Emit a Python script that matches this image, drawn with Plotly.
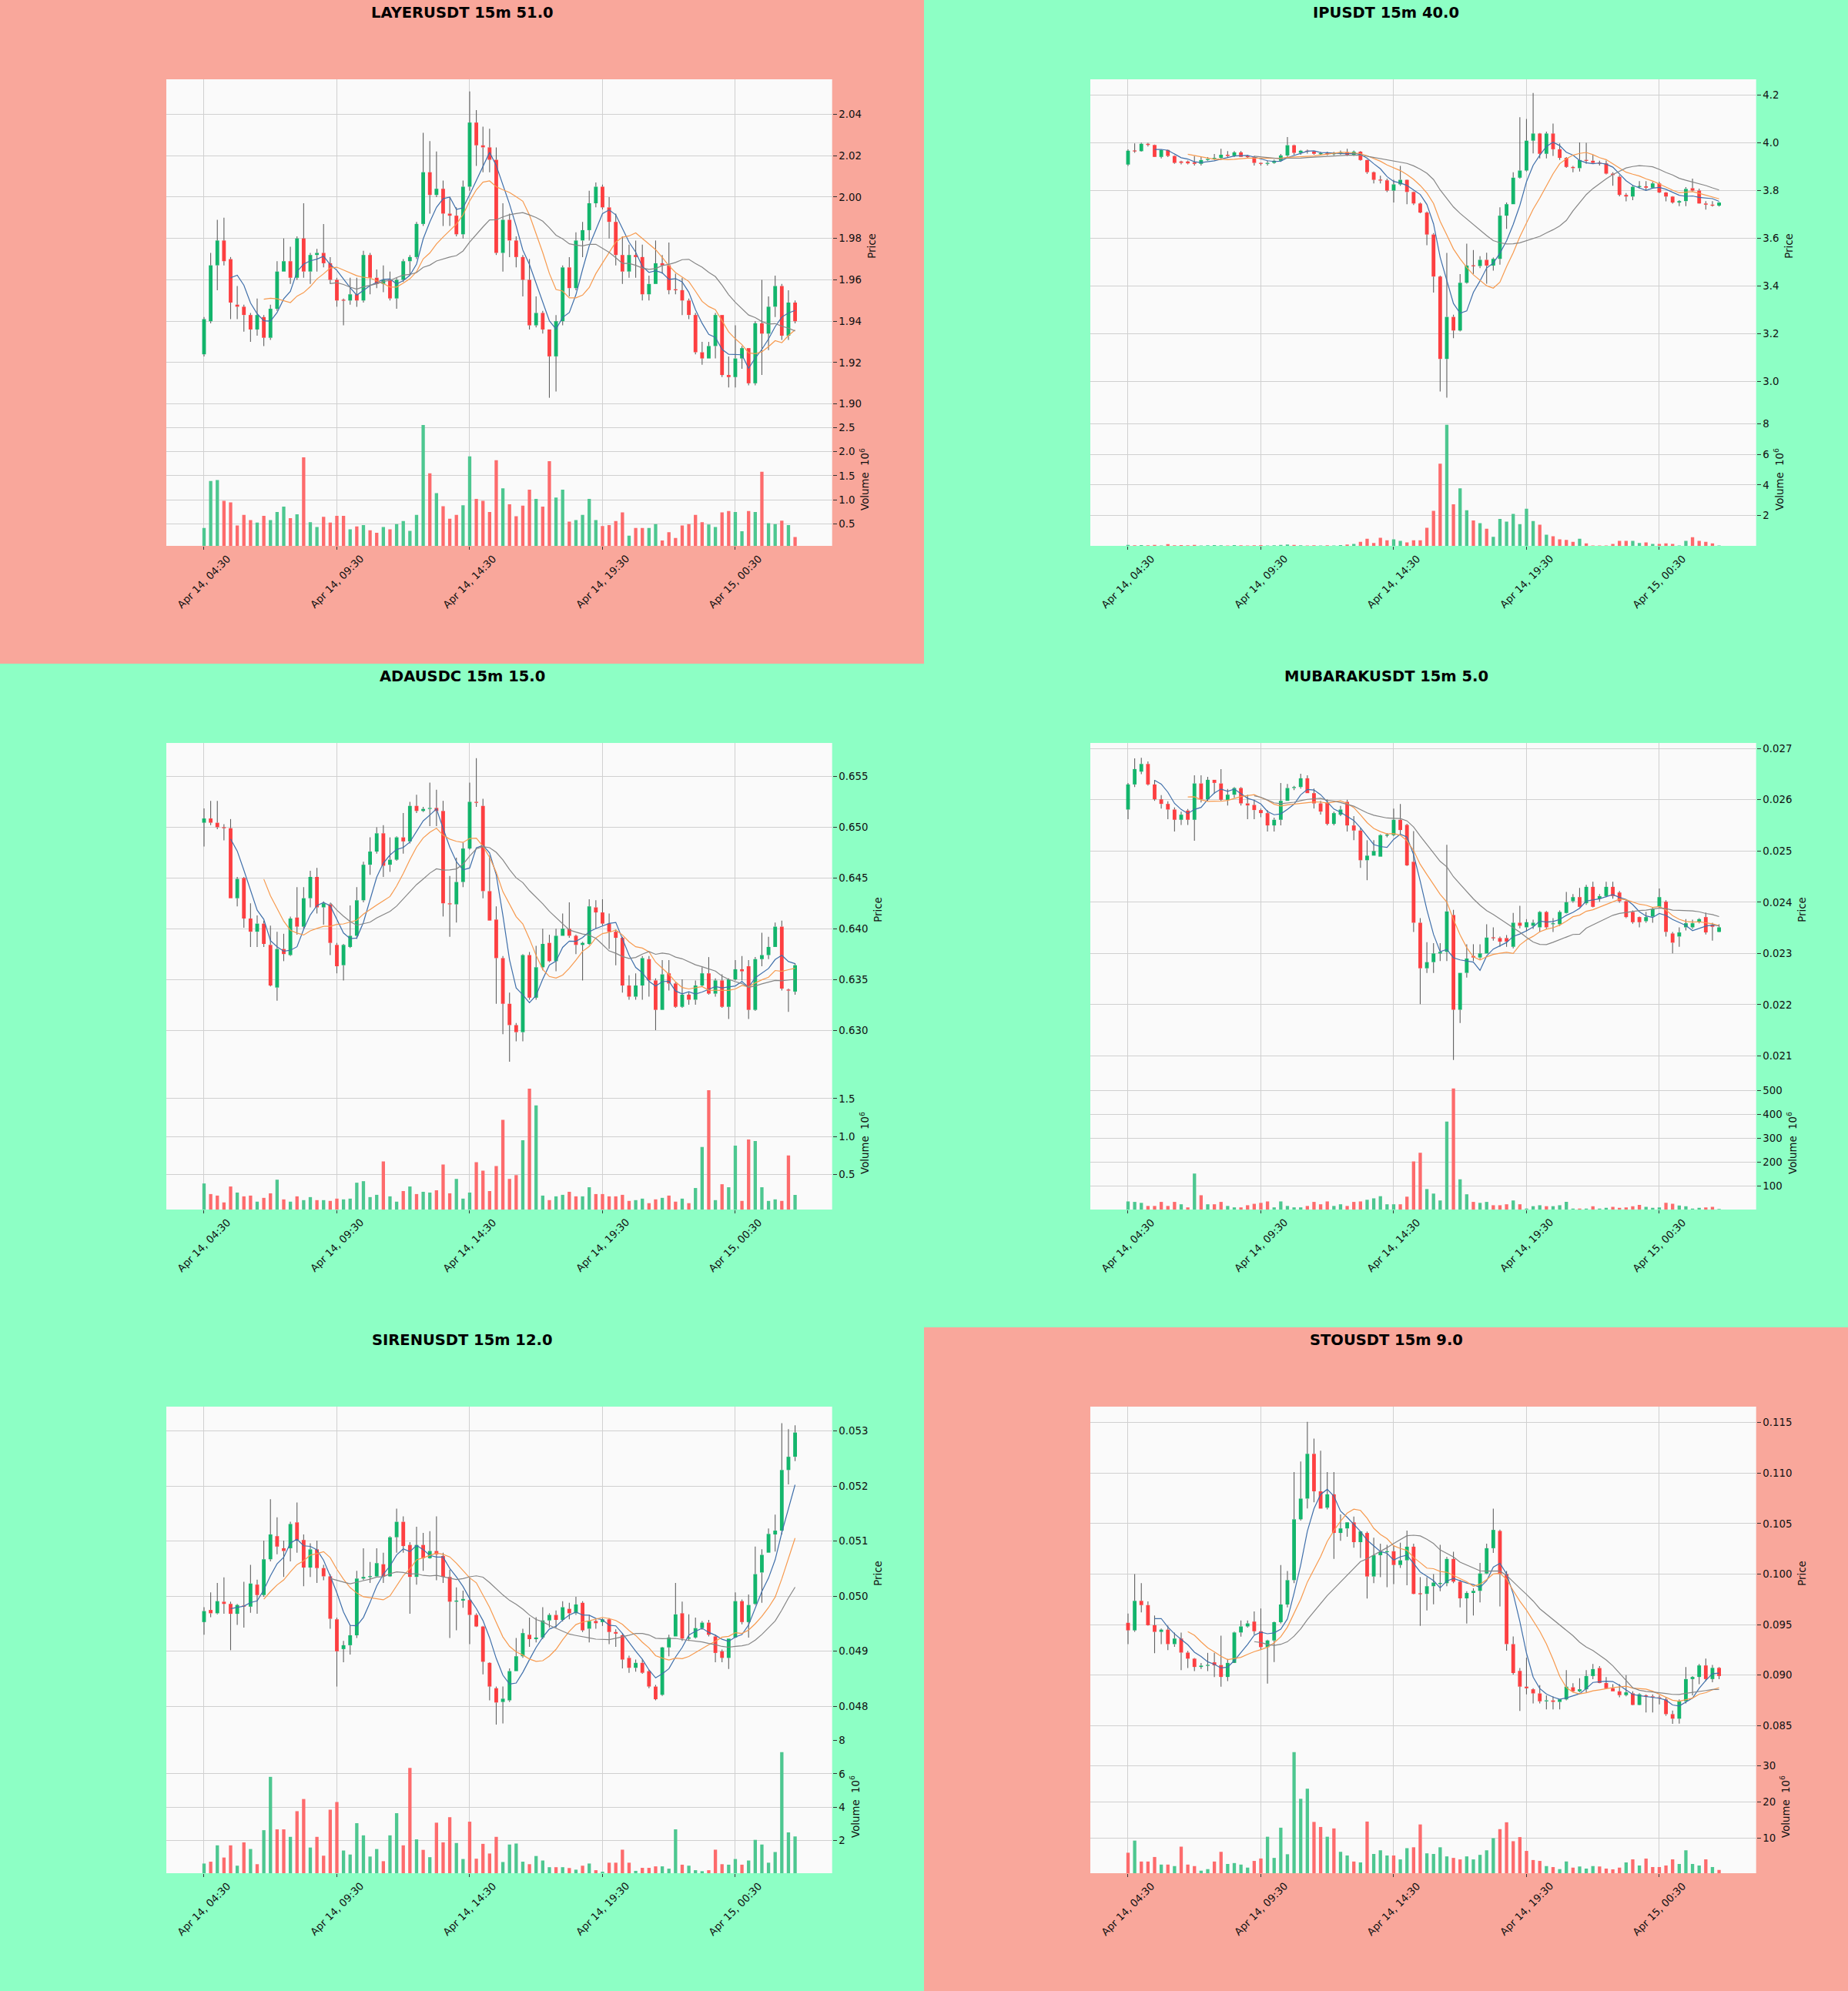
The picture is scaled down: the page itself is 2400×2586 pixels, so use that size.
import pandas as pd
import plotly.graph_objects as go

# ---------------------------------------------------------------- data
TITLES = ["LAYERUSDT 15m 51.0", "IPUSDT 15m 40.0", "ADAUSDC 15m 15.0",
          "MUBARAKUSDT 15m 5.0", "SIRENUSDT 15m 12.0", "STOUSDT 15m 9.0"]
X_TICK_POS = [0, 20, 40, 60, 80]
X_TICK_TEXT = ["Apr 14, 04:30", "Apr 14, 09:30", "Apr 14, 14:30",
               "Apr 14, 19:30", "Apr 15, 00:30"]
MA_WINDOWS = [5, 10, 20]

layer_open = [1.924,1.940,1.967,1.979,1.970,1.948,1.947,1.943,1.936,1.942,
              1.932,1.946,1.964,1.969,1.961,1.980,1.964,1.972,1.973,1.968,
              1.960,1.9503,1.950,1.953,1.950,1.972,1.961,1.958,1.960,1.951,
              1.960,1.969,1.971,1.987,2.012,2.001,2.004,1.992,1.991,1.982,
              2.005,2.036,2.025,2.024,2.018,1.973,1.989,1.979,1.971,1.960,
              1.938,1.944,1.936,1.923,1.940,1.966,1.956,1.979,1.984,1.997,
              2.005,1.995,1.988,1.972,1.964,1.972,1.971,1.953,1.958,1.968,
              1.967,1.9554,1.955,1.950,1.943,1.925,1.922,1.928,1.943,1.914,
              1.913,1.922,1.927,1.910,1.939,1.934,1.947,1.957,1.933,1.949]
layer_high = [1.942,1.973,1.989,1.990,1.971,1.957,1.948,1.944,1.951,1.943,
              1.948,1.969,1.980,1.976,1.981,1.997,1.973,1.975,1.987,1.971,
              1.961,1.951,1.961,1.961,1.974,1.973,1.965,1.967,1.964,1.961,
              1.970,1.972,1.988,2.031,2.027,2.022,2.008,2.000,1.995,2.008,
              2.051,2.042,2.034,2.033,2.024,1.997,1.992,1.981,1.972,1.970,
              1.952,1.945,1.936,1.943,1.967,1.971,1.983,1.988,2.003,2.007,
              2.006,2.000,1.992,1.981,1.977,1.979,1.977,1.962,1.979,1.972,
              1.978,1.963,1.961,1.951,1.944,1.930,1.930,1.944,1.943,1.923,
              1.938,1.928,1.927,1.940,1.960,1.952,1.962,1.958,1.955,1.950]
layer_low = [1.923,1.939,1.955,1.967,1.941,1.941,1.935,1.930,1.933,1.928,
             1.931,1.945,1.964,1.958,1.960,1.961,1.958,1.964,1.966,1.958,
             1.947,1.938,1.948,1.947,1.949,1.953,1.956,1.954,1.950,1.946,
             1.959,1.962,1.970,1.986,1.992,2.000,1.986,1.986,1.981,1.980,
             2.003,2.015,2.012,2.012,1.972,1.964,1.971,1.966,1.952,1.936,
             1.937,1.934,1.903,1.906,1.938,1.952,1.955,1.971,1.979,1.995,
             1.994,1.980,1.967,1.958,1.961,1.961,1.950,1.950,1.958,1.963,
             1.953,1.953,1.943,1.941,1.924,1.919,1.922,1.922,1.913,1.908,
             1.908,1.917,1.909,1.909,1.914,1.926,1.942,1.931,1.931,1.939]
layer_close = [1.941,1.967,1.979,1.969,1.949,1.947,1.943,1.936,1.943,1.932,
               1.946,1.964,1.969,1.961,1.980,1.964,1.972,1.973,1.968,1.960,
               1.950,1.950,1.953,1.950,1.972,1.961,1.958,1.960,1.951,1.960,
               1.969,1.971,1.987,2.012,2.001,2.004,1.992,1.991,1.982,2.005,
               2.036,2.025,2.024,2.018,1.973,1.989,1.979,1.971,1.960,1.938,
               1.944,1.936,1.923,1.940,1.966,1.956,1.979,1.984,1.997,2.005,
               1.995,1.988,1.972,1.964,1.972,1.971,1.953,1.958,1.968,1.967,
               1.955,1.955,1.950,1.943,1.925,1.922,1.928,1.943,1.914,1.913,
               1.922,1.927,1.910,1.939,1.934,1.947,1.957,1.933,1.949,1.940]
layer_vol = [0.42,1.39,1.41,0.98,0.95,0.47,0.69,0.58,0.53,0.67,
             0.58,0.75,0.86,0.62,0.70,1.88,0.54,0.44,0.65,0.53,
             0.67,0.67,0.39,0.45,0.48,0.37,0.32,0.44,0.39,0.50,
             0.56,0.36,0.69,2.55,1.55,1.14,0.87,0.61,0.69,0.89,
             1.90,1.02,0.98,0.75,1.82,1.24,0.91,0.66,0.88,1.21,
             1.02,0.86,1.80,1.05,1.21,0.55,0.58,0.69,1.02,0.58,
             0.46,0.48,0.56,0.74,0.26,0.42,0.42,0.42,0.50,0.16,
             0.33,0.21,0.47,0.50,0.69,0.54,0.49,0.44,0.74,0.77,
             0.75,0.35,0.77,0.75,1.58,0.52,0.50,0.57,0.48,0.23]

ip_open = [3.909,3.967,3.965,3.996,3.991,3.941,3.970,3.945,3.922,3.922,
           3.918,3.912,3.928,3.932,3.937,3.950,3.945,3.960,3.946,3.940,
           3.916,3.912,3.916,3.925,3.947,3.990,3.958,3.967,3.963,3.954,
           3.955,3.953,3.956,3.960,3.950,3.963,3.928,3.877,3.845,3.843,
           3.800,3.826,3.845,3.794,3.746,3.708,3.616,3.440,3.095,3.271,
           3.214,3.414,3.486,3.484,3.510,3.486,3.514,3.695,3.743,3.854,
           3.884,4.009,4.039,3.954,4.039,3.973,3.937,3.899,3.894,3.928,
           3.925,3.916,3.914,3.871,3.858,3.782,3.775,3.816,3.818,3.812,
           3.830,3.792,3.775,3.750,3.756,3.810,3.800,3.746,3.741,3.737]
ip_high = [3.973,3.998,4.001,4.000,3.993,3.972,3.972,3.948,3.925,3.926,
           3.945,3.940,3.940,3.953,3.975,3.965,3.965,3.965,3.950,3.945,
           3.918,3.925,3.930,3.953,4.024,3.993,3.970,3.972,3.966,3.962,
           3.963,3.962,3.968,3.975,3.968,3.965,3.930,3.880,3.862,3.850,
           3.845,3.903,3.847,3.796,3.750,3.712,3.622,3.444,3.539,3.280,
           3.450,3.578,3.551,3.525,3.540,3.520,3.730,3.750,3.877,4.107,
           4.100,4.209,4.041,4.047,4.081,3.998,3.940,3.903,4.002,4.000,
           3.950,3.925,3.926,3.877,3.865,3.790,3.822,3.840,3.840,3.836,
           3.836,3.794,3.777,3.760,3.815,3.850,3.808,3.756,3.756,3.752]
ip_low = [3.903,3.958,3.963,3.985,3.940,3.935,3.940,3.912,3.910,3.910,
          3.905,3.905,3.925,3.928,3.928,3.940,3.940,3.940,3.935,3.905,
          3.905,3.905,3.912,3.920,3.940,3.950,3.950,3.955,3.950,3.948,
          3.948,3.948,3.950,3.945,3.945,3.925,3.870,3.830,3.830,3.794,
          3.750,3.820,3.743,3.740,3.705,3.571,3.373,2.959,2.933,3.182,
          3.210,3.410,3.451,3.475,3.410,3.465,3.490,3.640,3.743,3.850,
          3.880,3.956,3.935,3.935,3.945,3.928,3.895,3.877,3.880,3.912,
          3.912,3.905,3.868,3.820,3.776,3.755,3.760,3.808,3.800,3.808,
          3.790,3.755,3.745,3.735,3.735,3.795,3.745,3.720,3.733,3.733]
ip_close = [3.967,3.965,3.996,3.991,3.941,3.970,3.945,3.916,3.916,3.914,
            3.912,3.928,3.932,3.937,3.950,3.945,3.960,3.941,3.940,3.916,
            3.912,3.916,3.925,3.947,3.990,3.958,3.967,3.963,3.954,3.955,
            3.953,3.956,3.960,3.950,3.963,3.928,3.877,3.845,3.843,3.800,
            3.826,3.845,3.794,3.746,3.708,3.616,3.440,3.095,3.271,3.214,
            3.414,3.486,3.484,3.510,3.486,3.514,3.695,3.743,3.854,3.884,
            4.009,4.039,3.954,4.039,3.973,3.937,3.899,3.894,3.928,3.925,
            3.916,3.914,3.871,3.865,3.782,3.775,3.816,3.818,3.812,3.830,
            3.792,3.775,3.750,3.756,3.807,3.800,3.746,3.741,3.737,3.750]
ip_vol = [0.08,0.05,0.06,0.05,0.07,0.04,0.12,0.05,0.06,0.05,
          0.07,0.04,0.05,0.06,0.05,0.04,0.06,0.05,0.04,0.05,
          0.06,0.04,0.05,0.07,0.10,0.08,0.05,0.04,0.05,0.04,
          0.05,0.04,0.06,0.10,0.14,0.28,0.48,0.20,0.54,0.38,
          0.44,0.34,0.24,0.38,0.38,1.20,2.30,5.40,7.94,2.74,
          3.78,2.34,1.68,1.50,1.14,0.60,1.78,1.60,2.10,1.44,
          2.44,1.64,1.40,0.74,0.64,0.44,0.40,0.28,0.48,0.18,
          0.04,0.04,0.04,0.14,0.34,0.34,0.34,0.20,0.24,0.14,
          0.14,0.18,0.14,0.04,0.34,0.58,0.34,0.28,0.18,0.04]

ada_open = [0.65044,0.65086,0.65044,0.6500,0.6499,0.6430,0.6450,0.6410,0.6397,0.6405,
            0.6384,0.6342,0.6380,0.6374,0.6411,0.6402,0.6430,0.6451,0.6421,0.6424,
            0.6384,0.6364,0.6382,0.6393,0.6428,0.6463,0.6476,0.6494,0.6463,0.6468,
            0.6490,0.6486,0.6521,0.6516,0.6518,0.6519,0.6516,0.6425,0.6424,0.6446,
            0.6479,0.6525,0.6521,0.6437,0.6409,0.6371,0.6326,0.6305,0.6298,0.6374,
            0.6332,0.6362,0.6386,0.6368,0.6393,0.6400,0.6393,0.6384,0.6385,0.6421,
            0.6416,0.6405,0.6397,0.6391,0.6344,0.6333,0.6344,0.6370,0.6349,0.6320,
            0.6356,0.6346,0.6323,0.6335,0.6330,0.6344,0.6356,0.6336,0.6349,0.6323,
            0.6350,0.6360,0.6363,0.6320,0.6370,0.6374,0.6382,0.6402,0.6340,0.6338]
ada_high = [0.65185,0.6526,0.6526,0.6503,0.6508,0.6451,0.6451,0.6425,0.6413,0.6408,
            0.6403,0.6397,0.6395,0.6412,0.6441,0.6441,0.6457,0.6460,0.6427,0.6425,
            0.6386,0.6385,0.6423,0.6441,0.6466,0.6490,0.6500,0.6502,0.6490,0.6491,
            0.6514,0.6525,0.6532,0.6520,0.6544,0.6537,0.6526,0.6452,0.6470,0.6485,
            0.6544,0.6568,0.6528,0.6472,0.6422,0.6373,0.6337,0.6307,0.6375,0.6377,
            0.6383,0.6400,0.6394,0.6400,0.6415,0.6426,0.6394,0.6387,0.6429,0.6428,
            0.6429,0.6415,0.6399,0.6392,0.6354,0.6356,0.6373,0.6373,0.6351,0.6369,
            0.6369,0.6347,0.6350,0.6337,0.6349,0.6362,0.6372,0.6351,0.6355,0.6351,
            0.6369,0.6373,0.6369,0.6372,0.6396,0.6392,0.6406,0.6408,0.6341,0.6366]
ada_low = [0.6481,0.6502,0.6498,0.6487,0.6430,0.6422,0.6401,0.6382,0.6382,0.6382,
           0.6343,0.6329,0.6368,0.6373,0.6394,0.6400,0.6421,0.6415,0.6404,0.6374,
           0.6356,0.6349,0.6381,0.6390,0.6426,0.6453,0.6474,0.6451,0.6456,0.6467,
           0.6474,0.6484,0.6514,0.6515,0.6501,0.6501,0.6412,0.6392,0.6406,0.6441,
           0.6478,0.6520,0.6430,0.6408,0.6326,0.6296,0.6269,0.6289,0.6289,0.6330,
           0.6330,0.6359,0.6367,0.6358,0.6393,0.6391,0.6375,0.6349,0.6384,0.6400,
           0.6403,0.6380,0.6364,0.6337,0.6330,0.6330,0.6330,0.6333,0.6300,0.6320,
           0.6339,0.6322,0.6322,0.6325,0.6325,0.6343,0.6335,0.6333,0.6322,0.6311,
           0.6349,0.6349,0.6311,0.6319,0.6363,0.6370,0.6382,0.6339,0.6318,0.6335]
ada_close = [0.65086,0.65044,0.6500,0.6499,0.6430,0.6449,0.6410,0.6397,0.6405,0.6385,
             0.6344,0.6380,0.6375,0.6410,0.6402,0.6430,0.6451,0.6421,0.6425,0.6386,
             0.6363,0.6384,0.6393,0.6428,0.6463,0.6476,0.6494,0.6462,0.6468,0.6490,
             0.6486,0.6521,0.6516,0.6518,0.6519,0.6516,0.6425,0.6424,0.6446,0.6479,
             0.6525,0.6524,0.6437,0.6408,0.6371,0.6326,0.6305,0.6298,0.6374,0.6332,
             0.6362,0.6385,0.6368,0.6393,0.6400,0.6393,0.6384,0.6386,0.6422,0.6416,
             0.6405,0.6397,0.6391,0.6344,0.6333,0.6344,0.6371,0.6349,0.6320,0.6355,
             0.6346,0.6323,0.6335,0.6330,0.6344,0.6356,0.6336,0.6349,0.6323,0.6350,
             0.6360,0.6358,0.6320,0.6370,0.6374,0.6382,0.6402,0.6341,0.6339,0.6364]
ada_vol = [0.38,0.24,0.22,0.13,0.34,0.26,0.21,0.22,0.14,0.19,
           0.25,0.43,0.17,0.14,0.21,0.16,0.20,0.16,0.16,0.15,
           0.18,0.17,0.18,0.39,0.41,0.20,0.23,0.67,0.21,0.14,
           0.28,0.34,0.24,0.27,0.26,0.29,0.63,0.25,0.44,0.18,
           0.26,0.66,0.55,0.28,0.61,1.22,0.44,0.49,0.95,1.63,
           1.41,0.22,0.16,0.21,0.23,0.27,0.21,0.21,0.33,0.24,
           0.24,0.21,0.21,0.23,0.15,0.16,0.18,0.12,0.17,0.19,
           0.22,0.14,0.18,0.12,0.32,0.86,1.61,0.16,0.37,0.33,
           0.88,0.15,0.96,0.94,0.33,0.15,0.17,0.15,0.75,0.23]

mub_open = [0.02581,0.02630,0.02655,0.02670,0.02630,0.02601,0.02592,0.02581,0.02561,0.02579,
            0.02561,0.02632,0.02601,0.02639,0.02632,0.02600,0.02610,0.02623,0.02593,0.02590,
            0.02580,0.02574,0.02550,0.02561,0.02598,0.02623,0.02625,0.02642,0.02613,0.02593,
            0.02595,0.02553,0.02571,0.02596,0.02550,0.02540,0.02482,0.02491,0.02489,0.02531,
            0.02531,0.02561,0.02551,0.02479,0.02360,0.02271,0.02283,0.02300,0.02303,0.02375,
            0.02190,0.02262,0.02295,0.02292,0.02300,0.02331,0.02330,0.02330,0.02313,0.02360,
            0.02351,0.02354,0.02351,0.02381,0.02357,0.02357,0.02379,0.02402,0.02410,0.02398,
            0.02430,0.02407,0.02412,0.02430,0.02419,0.02402,0.02381,0.02371,0.02363,0.02372,
            0.02391,0.02401,0.02339,0.02333,0.02351,0.02351,0.02361,0.02371,0.02356,0.02342]
mub_high = [0.02633,0.02681,0.02682,0.02675,0.02639,0.02609,0.02597,0.02585,0.02577,0.02582,
            0.02648,0.02648,0.02645,0.02639,0.02660,0.02621,0.02625,0.02625,0.02610,0.02600,
            0.02583,0.02580,0.02565,0.02633,0.02631,0.02627,0.02651,0.02648,0.02622,0.02598,
            0.02601,0.02577,0.02588,0.02600,0.02568,0.02545,0.02521,0.02521,0.02533,0.02535,
            0.02583,0.02592,0.02553,0.02539,0.02369,0.02322,0.02320,0.02320,0.02512,0.02385,
            0.02262,0.02318,0.02318,0.02318,0.02357,0.02351,0.02333,0.02336,0.02379,0.02393,
            0.02367,0.02366,0.02383,0.02383,0.02369,0.02384,0.02420,0.02416,0.02428,0.02434,
            0.02440,0.02416,0.02440,0.02440,0.02422,0.02405,0.02384,0.02372,0.02381,0.02390,
            0.02427,0.02404,0.02342,0.02351,0.02367,0.02366,0.02369,0.02380,0.02360,0.02357]
mub_low = [0.02562,0.02625,0.02650,0.02628,0.02598,0.02583,0.02562,0.02538,0.02551,0.02551,
           0.02520,0.02595,0.02598,0.02612,0.02598,0.02589,0.02604,0.02589,0.02562,0.02562,
           0.02566,0.02538,0.02538,0.02550,0.02598,0.02619,0.02622,0.02613,0.02583,0.02571,
           0.02550,0.02550,0.02568,0.02538,0.02521,0.02467,0.02443,0.02491,0.02489,0.02527,
           0.02529,0.02532,0.02471,0.02342,0.02201,0.02262,0.02262,0.02285,0.02285,0.02092,
           0.02164,0.02253,0.02285,0.02289,0.02300,0.02325,0.02313,0.02313,0.02310,0.02349,
           0.02343,0.02348,0.02342,0.02348,0.02342,0.02354,0.02378,0.02399,0.02390,0.02395,
           0.02390,0.02401,0.02410,0.02407,0.02399,0.02369,0.02358,0.02351,0.02360,0.02360,
           0.02389,0.02333,0.02300,0.02313,0.02345,0.02348,0.02359,0.02337,0.02325,0.02341]
mub_close = [0.02630,0.02660,0.02670,0.02630,0.02601,0.02592,0.02581,0.02561,0.02571,0.02561,
             0.02632,0.02601,0.02639,0.02633,0.02600,0.02610,0.02623,0.02593,0.02589,0.02580,
             0.02574,0.02550,0.02561,0.02598,0.02623,0.02625,0.02642,0.02613,0.02593,0.02577,
             0.02553,0.02574,0.02581,0.02550,0.02540,0.02482,0.02491,0.02500,0.02531,0.02531,
             0.02561,0.02541,0.02472,0.02360,0.02271,0.02283,0.02300,0.02303,0.02382,0.02190,
             0.02262,0.02290,0.02292,0.02300,0.02331,0.02330,0.02323,0.02323,0.02360,0.02354,
             0.02361,0.02360,0.02381,0.02351,0.02359,0.02381,0.02400,0.02410,0.02391,0.02430,
             0.02391,0.02412,0.02430,0.02412,0.02402,0.02371,0.02361,0.02361,0.02371,0.02387,
             0.02410,0.02342,0.02321,0.02341,0.02359,0.02359,0.02367,0.02341,0.02352,0.02351]
mub_vol = [35,33,29,16,16,33,16,33,23,10,
           152,61,23,23,33,16,10,10,19,25,
           29,35,10,35,16,10,10,16,33,23,
           35,16,23,16,33,35,42,48,57,23,
           23,23,55,203,240,87,68,39,371,510,
           128,65,33,29,33,19,19,23,39,23,
           5,15,19,15,15,19,33,5,5,5,
           15,5,8,12,8,10,15,20,12,8,
           10,29,25,18,15,5,8,10,12,3]

siren_open = [0.04953,0.04975,0.04969,0.04990,0.04986,0.04968,0.04983,0.04981,0.05021,0.05002,
              0.05067,0.05109,0.05087,0.05087,0.05134,0.05102,0.05052,0.05085,0.05051,0.05036,
              0.04958,0.04904,0.04911,0.04929,0.05032,0.05035,0.05036,0.05058,0.05036,0.05107,
              0.05135,0.05093,0.05035,0.05093,0.05069,0.05082,0.05073,0.05035,0.04990,0.04992,
              0.04993,0.04966,0.04945,0.04879,0.04833,0.04808,0.04811,0.04864,0.04891,0.04930,
              0.04922,0.04925,0.04956,0.04966,0.04957,0.04977,0.04969,0.04988,0.04941,0.04955,
              0.04953,0.04958,0.04935,0.04929,0.04888,0.04870,0.04879,0.04864,0.04836,0.04821,
              0.04907,0.04927,0.04969,0.04923,0.04925,0.04942,0.04952,0.04927,0.04900,0.04888,
              0.04925,0.04991,0.04953,0.04986,0.05043,0.05079,0.05112,0.05119,0.05229,0.05253]
siren_high = [0.04980,0.05007,0.05024,0.05034,0.04990,0.04986,0.05026,0.05057,0.05030,0.05101,
              0.05176,0.05143,0.05101,0.05135,0.05170,0.05112,0.05096,0.05101,0.05057,0.05040,
              0.04961,0.04919,0.04947,0.05046,0.05087,0.05062,0.05087,0.05079,0.05109,0.05159,
              0.05145,0.05098,0.05126,0.05115,0.05118,0.05145,0.05079,0.05048,0.05016,0.05010,
              0.05034,0.04969,0.04946,0.04880,0.04836,0.04836,0.04869,0.04924,0.04941,0.04961,
              0.04962,0.04980,0.04969,0.04974,0.04991,0.04988,0.04999,0.04991,0.04966,0.04958,
              0.04960,0.04960,0.04940,0.04933,0.04892,0.04885,0.04885,0.04866,0.04839,0.04908,
              0.04930,0.05024,0.04990,0.04967,0.04961,0.04955,0.04957,0.04930,0.04903,0.04923,
              0.05007,0.04994,0.05003,0.05090,0.05085,0.05123,0.05148,0.05314,0.05303,0.05310]
siren_low = [0.04930,0.04962,0.04967,0.04968,0.04902,0.04948,0.04943,0.04970,0.04968,0.04999,
             0.05063,0.05076,0.05035,0.05063,0.05079,0.05018,0.05035,0.05024,0.05029,0.04941,
             0.04836,0.04880,0.04894,0.04924,0.05029,0.05024,0.05035,0.05024,0.05035,0.05079,
             0.05079,0.04968,0.05021,0.05046,0.05068,0.05029,0.05024,0.04924,0.04938,0.04979,
             0.04913,0.04944,0.04858,0.04811,0.04767,0.04769,0.04808,0.04864,0.04888,0.04908,
             0.04916,0.04922,0.04943,0.04943,0.04954,0.04958,0.04966,0.04935,0.04916,0.04941,
             0.04946,0.04913,0.04908,0.04869,0.04861,0.04863,0.04859,0.04833,0.04811,0.04819,
             0.04891,0.04927,0.04919,0.04919,0.04923,0.04939,0.04927,0.04880,0.04880,0.04868,
             0.04924,0.04949,0.04925,0.04984,0.04988,0.05079,0.05081,0.05112,0.05203,0.05245]
siren_close = [0.04973,0.04969,0.04991,0.04986,0.04968,0.04984,0.04981,0.05023,0.05002,0.05067,
               0.05112,0.05090,0.05082,0.05131,0.05102,0.05052,0.05085,0.05051,0.05036,0.04959,
               0.04900,0.04911,0.04929,0.05032,0.05035,0.05036,0.05060,0.05036,0.05107,0.05135,
               0.05091,0.05035,0.05093,0.05069,0.05082,0.05076,0.05035,0.04990,0.04992,0.04995,
               0.04966,0.04945,0.04881,0.04836,0.04807,0.04814,0.04864,0.04891,0.04933,0.04922,
               0.04925,0.04956,0.04966,0.04957,0.04980,0.04969,0.04985,0.04938,0.04955,0.04951,
               0.04958,0.04935,0.04932,0.04885,0.04870,0.04879,0.04861,0.04836,0.04813,0.04907,
               0.04925,0.04967,0.04923,0.04925,0.04942,0.04952,0.04930,0.04897,0.04888,0.04923,
               0.04991,0.04953,0.04984,0.05040,0.05075,0.05113,0.05119,0.05229,0.05253,0.05297]
siren_vol = [0.62,0.73,1.71,0.98,1.71,0.49,1.89,1.49,0.58,2.62,
             5.82,2.67,2.67,2.22,3.76,4.49,1.58,2.22,1.09,3.85,
             4.31,1.40,1.16,3.04,2.31,1.04,1.49,0.76,2.31,3.64,
             1.71,6.36,2.07,1.44,1.00,3.07,1.89,3.40,1.85,0.89,
             3.13,0.91,1.80,1.22,2.22,0.71,1.76,1.82,0.73,0.58,
             1.07,0.80,0.40,0.40,0.40,0.35,0.25,0.49,0.62,0.22,
             0.13,0.67,0.67,1.45,0.67,0.18,0.36,0.36,0.45,0.45,
             0.31,2.67,0.55,0.49,0.22,0.16,0.22,1.45,0.58,0.55,
             0.89,0.55,0.80,2.04,1.76,0.67,1.31,7.30,2.49,2.25]

sto_open = [0.09518,0.09443,0.09735,0.09693,0.09494,0.09428,0.09450,0.09307,0.09362,0.09223,
            0.09163,0.09081,0.09094,0.09127,0.09100,0.08982,0.09121,0.09422,0.09482,0.09530,
            0.09434,0.09277,0.09343,0.09524,0.09699,0.09940,0.10542,0.10747,0.11190,0.10819,
            0.10657,0.10789,0.10407,0.10452,0.10512,0.10316,0.10407,0.09976,0.10187,0.10217,
            0.10226,0.10090,0.10136,0.10271,0.09806,0.09804,0.09880,0.09904,0.09910,0.10150,
            0.09925,0.09760,0.09813,0.09834,0.10006,0.10256,0.10427,0.10000,0.09307,0.09042,
            0.08886,0.08860,0.08819,0.08741,0.08750,0.08735,0.08760,0.08880,0.08840,0.08860,
            0.08991,0.09070,0.08922,0.08870,0.08840,0.08802,0.08820,0.08705,0.08800,0.08790,
            0.08780,0.08760,0.08614,0.08569,0.08741,0.08961,0.08982,0.09096,0.08961,0.09072]
sto_high = [0.0961,0.1000,0.0991,0.0973,0.0959,0.0946,0.0949,0.0942,0.0942,0.0924,
            0.0917,0.0912,0.0922,0.0922,0.0939,0.0916,0.0943,0.0954,0.0954,0.0963,
            0.0966,0.0935,0.0953,0.1009,0.1003,0.1101,0.11115,0.11506,0.1134,0.1122,
            0.1101,0.1101,0.1059,0.1051,0.1057,0.1037,0.1042,0.1036,0.1030,0.1029,
            0.1028,0.1031,0.1043,0.1030,0.0997,0.0997,0.1000,0.1029,0.1017,0.1022,
            0.0994,0.0983,0.0986,0.1011,0.1030,0.10648,0.1044,0.1003,0.09383,0.0907,
            0.09172,0.0887,0.0890,0.0880,0.0879,0.0876,0.0905,0.0892,0.0897,0.0905,
            0.0911,0.0909,0.0898,0.0891,0.0891,0.0900,0.0884,0.0882,0.0881,0.0881,
            0.0880,0.0878,0.0865,0.0876,0.0908,0.0899,0.0911,0.09163,0.0910,0.0908]
sto_low = [0.09307,0.09428,0.0962,0.0949,0.09217,0.09307,0.09247,0.0928,0.0905,0.0907,
           0.0904,0.0906,0.0904,0.0898,0.08886,0.0894,0.0913,0.0938,0.0947,0.0940,
           0.0925,0.08916,0.0913,0.0951,0.0967,0.0991,0.1053,0.1065,0.1071,0.10648,
           0.1064,0.1015,0.1033,0.1037,0.1026,0.1016,0.09758,0.0991,0.0997,0.0987,
           0.0990,0.1006,0.0989,0.0980,0.09488,0.0964,0.0970,0.0983,0.0988,0.0991,
           0.0967,0.0951,0.0959,0.0972,0.1000,0.1021,0.0968,0.09241,0.09006,0.08645,
           0.0881,0.0872,0.0872,0.0866,0.0866,0.0866,0.0875,0.0883,0.0883,0.0883,
           0.0896,0.0892,0.0886,0.0884,0.0878,0.0879,0.0870,0.0870,0.0863,0.0863,
           0.0871,0.08598,0.08518,0.0852,0.0872,0.0880,0.0891,0.0894,0.0893,0.0896]
sto_close = [0.09443,0.09735,0.09693,0.09494,0.09428,0.09450,0.09307,0.09362,0.09223,0.09163,
             0.09081,0.09094,0.09100,0.09097,0.08982,0.09121,0.09422,0.09482,0.09512,0.09434,
             0.09277,0.09343,0.09524,0.09699,0.09940,0.10542,0.10747,0.11190,0.10819,0.10648,
             0.10789,0.10407,0.10452,0.10512,0.10316,0.10422,0.09976,0.10187,0.10217,0.10226,
             0.10090,0.10136,0.10271,0.09804,0.09804,0.09880,0.09916,0.09910,0.10150,0.09925,
             0.09760,0.09813,0.09834,0.10006,0.10256,0.10437,0.10000,0.09307,0.09021,0.08886,
             0.08870,0.08819,0.08741,0.08750,0.08735,0.08760,0.08886,0.08840,0.08860,0.08991,
             0.09060,0.08922,0.08870,0.08840,0.08802,0.08830,0.08705,0.08811,0.08790,0.08780,
             0.08770,0.08614,0.08569,0.08741,0.08961,0.08982,0.09096,0.08961,0.09072,0.08991]
sto_vol = [5.97,9.33,3.53,3.53,4.79,2.69,2.69,2.27,7.65,2.69,
           2.27,1.00,1.43,3.53,6.22,2.86,3.11,2.69,1.85,3.70,
           4.37,10.4,4.54,12.9,5.55,33.8,20.9,23.7,14.5,13.1,
           10.4,12.7,6.22,5.21,3.53,3.28,14.6,5.63,6.64,5.21,
           5.21,4.12,7.23,7.48,13.8,5.80,5.63,7.48,4.96,4.54,
           4.12,4.96,4.12,5.38,6.64,10.0,12.5,14.4,9.16,10.3,
           6.47,3.95,3.70,2.27,2.00,1.43,3.53,1.85,2.18,1.60,
           2.27,2.18,1.60,1.35,1.85,3.28,4.12,2.44,4.37,2.00,
           2.00,2.44,4.12,2.86,6.64,2.86,2.44,4.12,2.00,1.18]

# ---------------------------------------------------------------- styling / layout
W, H = 2400, 2586
PANEL_W, PANEL_H = 1200, 862
PLOT_X0, PLOT_X1 = 216.0, 1080.7
PLOT_YTOP, PLOT_YMID, PLOT_YBOT = 103.0, 536.0, 709.0
X_RANGE = [-5.68, 94.58]

FONT = "DejaVu Sans"
SALMON = "#F9A79B"
MINT = "#8DFFC5"
PLOT_BG = "#FAFAFA"
GRID = "#D0D0D0"
UP, DOWN = "#00B060", "#FE3032"
VUP, VDOWN = "#4DC790", "#FD6B6C"
WICK = "#606060"
MA_COLORS = ["#3F6FAA", "#F79A4E", "#868686"]

PANELS = [
    dict(title=TITLES[0], o=layer_open, h=layer_high, l=layer_low, c=layer_close, v=layer_vol,
         prange=[1.8958, 2.0569], pdtick=0.02, pfmt=".2f", vdtick=0.5, vfmt=".1f", bg=SALMON),
    dict(title=TITLES[1], o=ip_open, h=ip_high, l=ip_low, c=ip_close, v=ip_vol,
         prange=[2.870, 4.266], pdtick=0.2, pfmt=".1f", vdtick=2, vfmt="d", bg=MINT),
    dict(title=TITLES[2], o=ada_open, h=ada_high, l=ada_low, c=ada_close, v=ada_vol,
         prange=[0.62545, 0.6583], pdtick=0.005, pfmt=".3f", vdtick=0.5, vfmt=".1f", bg=MINT),
    dict(title=TITLES[3], o=mub_open, h=mub_high, l=mub_low, c=mub_close, v=mub_vol,
         prange=[0.02060, 0.02711], pdtick=0.001, pfmt=".3f", vdtick=100, vfmt="d", bg=MINT),
    dict(title=TITLES[4], o=siren_open, h=siren_high, l=siren_low, c=siren_close, v=siren_vol,
         prange=[0.04739, 0.05344], pdtick=0.001, pfmt=".3f", vdtick=2, vfmt="d", bg=MINT),
    dict(title=TITLES[5], o=sto_open, h=sto_high, l=sto_low, c=sto_close, v=sto_vol,
         prange=[0.08358, 0.11657], pdtick=0.005, pfmt=".3f", vdtick=10, vfmt="d", bg=SALMON),
]


def suffix(n):
    return "" if n == 1 else str(n)


fig = go.Figure()
shapes, annotations, axes = [], [], {}

for k, p in enumerate(PANELS):
    r, col = divmod(k, 2)
    ox, oy = col * PANEL_W, r * PANEL_H
    n = min(len(p["o"]), len(p["h"]), len(p["l"]), len(p["c"]), len(p["v"]))
    o, hi, lo, c, v = p["o"][:n], p["h"][:n], p["l"][:n], p["c"][:n], p["v"][:n]
    idx = list(range(n))
    up = [c[i] >= o[i] for i in idx]

    npx, nvx = 2 * k + 1, 2 * k + 2
    xp, yp = "x" + suffix(npx), "y" + suffix(npx)
    xv, yv = "x" + suffix(nvx), "y" + suffix(nvx)

    xd = [(ox + PLOT_X0) / W, (ox + PLOT_X1) / W]
    yd_price = [1 - (oy + PLOT_YMID) / H, 1 - (oy + PLOT_YTOP) / H]
    yd_vol = [1 - (oy + PLOT_YBOT) / H, 1 - (oy + PLOT_YMID) / H]

    # panel background + plot area background
    shapes.append(dict(type="rect", xref="paper", yref="paper", layer="below",
                       x0=ox / W, x1=(ox + PANEL_W) / W,
                       y0=1 - (oy + PANEL_H) / H, y1=1 - oy / H,
                       fillcolor=p["bg"], line=dict(width=0)))
    shapes.append(dict(type="rect", xref="paper", yref="paper", layer="below",
                       x0=xd[0], x1=xd[1], y0=yd_vol[0], y1=yd_price[1],
                       fillcolor=PLOT_BG, line=dict(width=0)))

    # wicks (split so they do not cross the body)
    span = p["prange"][1] - p["prange"][0]
    eps = span * 0.003
    wx, wy = [], []
    for i in idx:
        b0, b1 = min(o[i], c[i]), max(o[i], c[i])
        wx += [i, i, None, i, i, None]
        wy += [lo[i], b0, None, b1, hi[i], None]
    fig.add_trace(go.Scatter(x=wx, y=wy, mode="lines", line=dict(color=WICK, width=1.1),
                             xaxis=xp, yaxis=yp, hoverinfo="skip", showlegend=False))

    # bodies
    base, height = [], []
    for i in idx:
        b0, b1 = min(o[i], c[i]), max(o[i], c[i])
        hgt = b1 - b0
        if hgt < eps:
            b0 -= (eps - hgt) / 2
            hgt = eps
        base.append(b0)
        height.append(hgt)
    fig.add_trace(go.Bar(x=idx, y=height, base=base, width=0.56,
                         marker=dict(color=[UP if u else DOWN for u in up], line=dict(width=0)),
                         opacity=0.92, xaxis=xp, yaxis=yp, hoverinfo="skip", showlegend=False))

    # moving averages of the close
    cs = pd.Series(c)
    for w, mc in zip(MA_WINDOWS, MA_COLORS):
        ma = cs.rolling(w).mean()
        fig.add_trace(go.Scatter(x=idx, y=[None if pd.isna(m) else float(m) for m in ma],
                                 mode="lines", line=dict(color=mc, width=1.2),
                                 xaxis=xp, yaxis=yp, hoverinfo="skip", showlegend=False))

    # volume
    fig.add_trace(go.Bar(x=idx, y=v, width=0.5,
                         marker=dict(color=[VUP if u else VDOWN for u in up], line=dict(width=0)),
                         xaxis=xv, yaxis=yv, hoverinfo="skip", showlegend=False))
    vrange = [0.3 * min(v), 1.1 * max(v)]

    common_x = dict(domain=xd, range=X_RANGE, tickmode="array", tickvals=X_TICK_POS,
                    showticklabels=False, showgrid=True, gridcolor=GRID, gridwidth=1,
                    zeroline=False, showline=False, fixedrange=True, automargin=False)
    axes["xaxis" + suffix(npx)] = dict(common_x, anchor=yp, ticks="")
    axes["xaxis" + suffix(nvx)] = dict(common_x, anchor=yv, ticks="outside", ticklen=4,
                                       tickcolor="#333333", tickwidth=1)
    tickfont = dict(family=FONT, size=13.3, color="#111111")
    axes["yaxis" + suffix(npx)] = dict(
        domain=yd_price, anchor=xp, side="right", range=p["prange"], tick0=0,
        dtick=p["pdtick"], tickformat=p["pfmt"], showgrid=True, gridcolor=GRID, gridwidth=1,
        zeroline=False, showline=False, ticks="outside", ticklen=5, tickcolor="#333333",
        tickfont=tickfont, automargin=False, fixedrange=True,
        title=dict(text="Price", font=dict(family=FONT, size=13.3, color="#111111"), standoff=9))
    axes["yaxis" + suffix(nvx)] = dict(
        domain=yd_vol, anchor=xv, side="right", range=vrange, tick0=0,
        dtick=p["vdtick"], tickformat=p["vfmt"], showgrid=True, gridcolor=GRID, gridwidth=1,
        zeroline=False, showline=False, ticks="outside", ticklen=5, tickcolor="#333333",
        tickfont=tickfont, automargin=False, fixedrange=True,
        title=dict(text="Volume  10<sup>6</sup>", font=dict(family=FONT, size=13.3, color="#111111"),
                   standoff=9))

    # panel title
    annotations.append(dict(text="<b>" + p["title"] + "</b>", xref="paper", yref="paper",
                            x=(ox + 600) / W, y=1 - (oy + 16.5) / H, xanchor="center",
                            yanchor="middle", showarrow=False,
                            font=dict(family=FONT, size=19.5, color="#000000")))
    # rotated x tick labels (centred under their ticks)
    for t, lab in zip(X_TICK_POS, X_TICK_TEXT):
        annotations.append(dict(text=lab, xref=xv, yref="paper", x=t,
                                y=1 - (oy + PLOT_YBOT + 46) / H, textangle=-45,
                                xanchor="center", yanchor="middle", showarrow=False,
                                font=dict(family=FONT, size=13.3, color="#111111")))

fig.update_layout(
    width=W, height=H, margin=dict(l=0, r=0, t=0, b=0, pad=0),
    paper_bgcolor=MINT, plot_bgcolor="rgba(0,0,0,0)",
    barmode="overlay", showlegend=False, font=dict(family=FONT, size=13.3, color="#111111"),
    shapes=shapes, annotations=annotations, **axes)

fig.write_html("out.html", config={"displayModeBar": False, "staticPlot": True},
               post_script="document.body.style.margin='0';")
